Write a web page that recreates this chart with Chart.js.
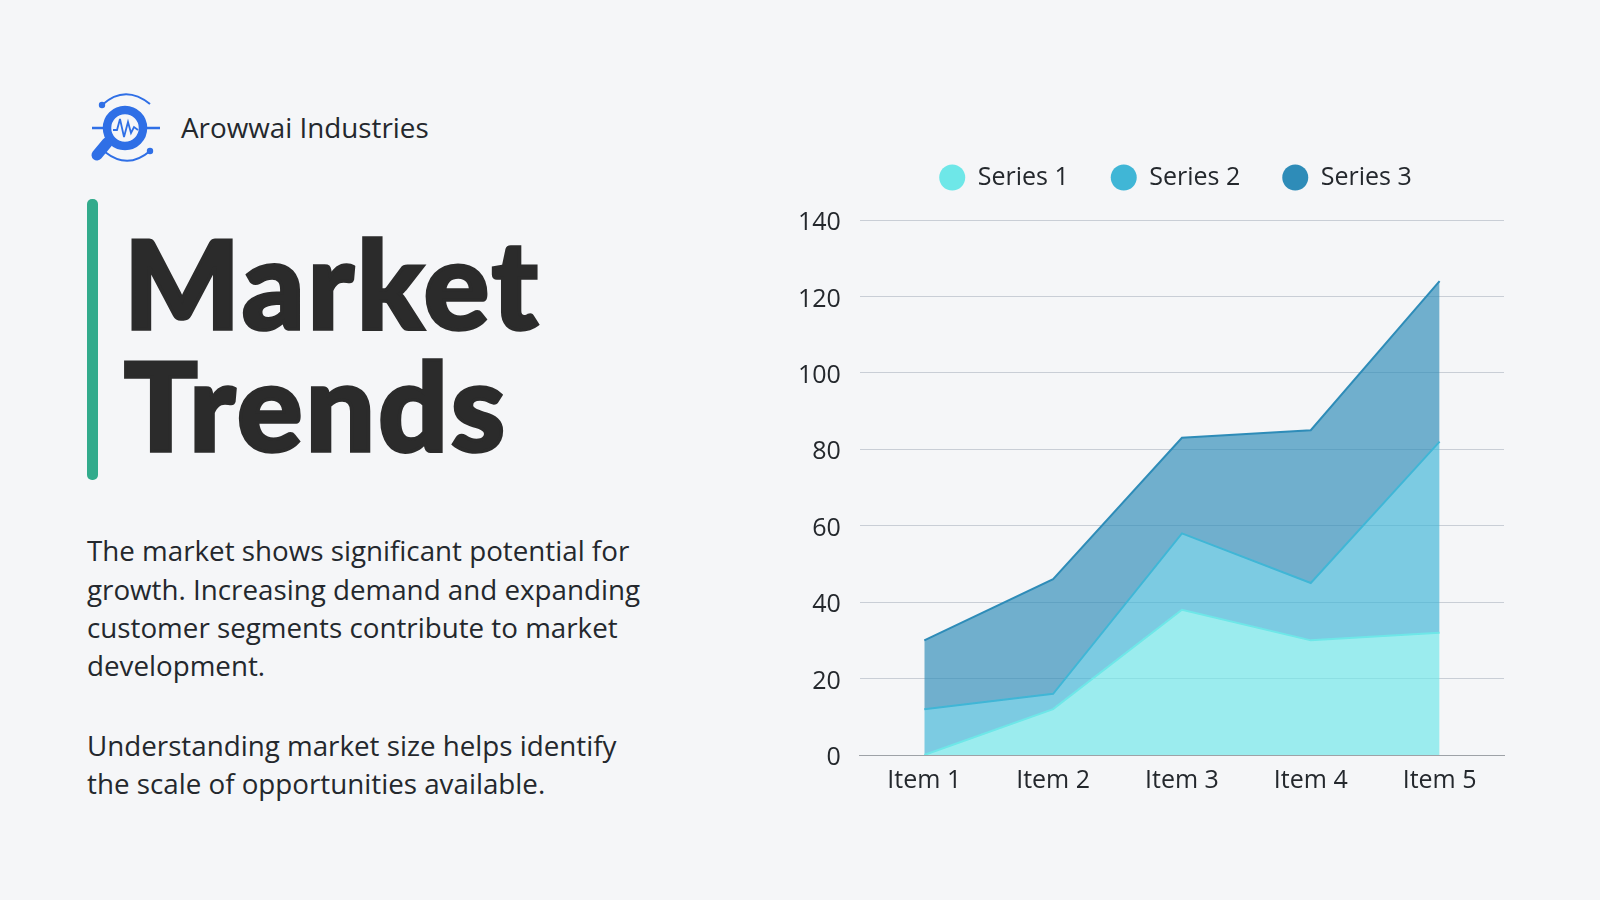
<!DOCTYPE html>
<html>
<head>
<meta charset="utf-8">
<title>Market Trends</title>
<script src="https://cdn.jsdelivr.net/npm/chart.js@4"></script>
<style>
  html, body { margin: 0; padding: 0; }
  body { width: 1600px; height: 900px; background: #f5f6f8; position: relative; overflow: hidden; font-family: "Open Sans", sans-serif; color: #24282d; }
  #logo { position: absolute; left: 70px; top: 80px; }
  #company { position: absolute; left: 181px; top: 107px; font-size: 27.8px; line-height: 40px; }
  #bar { position: absolute; left: 87px; top: 199px; width: 11px; height: 281px; border-radius: 5px; background: #32ab8c; }
  #title { position: absolute; left: 124px; top: 221px; font-family: Lato, sans-serif; font-weight: 900; font-size: 122px; line-height: 122px; letter-spacing: 3.3px; color: #2b2b2b; -webkit-text-stroke: 3.5px #2b2b2b; }
  .para { position: absolute; left: 87px; font-size: 27.75px; line-height: 38.2px; margin: 0; white-space: nowrap; }
  #chartBox { position: absolute; left: 779px; top: 0; width: 792px; height: 900px; }
</style>
</head>
<body>
<svg id="logo" width="120" height="90" viewBox="0 0 120 90" fill="none" stroke="#2f6fe6">
  <path d="M32 25 Q55 4 80 24" stroke-width="2"/>
  <circle cx="32" cy="25" r="3.2" fill="#2f6fe6" stroke="none"/>
  <path d="M35 72 Q58 90 80 71" stroke-width="2"/>
  <circle cx="80" cy="71" r="3.2" fill="#2f6fe6" stroke="none"/>
  <path d="M22 48 H36 M75 48 H90" stroke-width="2.5"/>
  <circle cx="55" cy="48" r="18" stroke-width="8.5"/>
  <path d="M37 63 L27 75" stroke-width="11" stroke-linecap="round"/>
  <path d="M43 50 L47 50 L50 39 L54 57 L58 42 L61 53 L64 47 L68 50" stroke-width="1.8"/>
</svg>
<div id="company">Arowwai Industries</div>
<div id="bar"></div>
<div id="title">Market<br>Trends</div>
<p class="para" style="top: 531.3px">The market shows significant potential for<br>growth. Increasing demand and expanding<br>customer segments contribute to market<br>development.</p>
<p class="para" style="top: 726px">Understanding market size helps identify<br>the scale of opportunities available.</p>
<div id="chartBox"><canvas id="chart"></canvas></div>

<script>
const categories = ['Item 1', 'Item 2', 'Item 3', 'Item 4', 'Item 5'];
const series1 = [0, 12, 38, 30, 32];
const series2 = [12, 4, 20, 15, 50];
const series3 = [18, 30, 25, 40, 42];
const yTicks = [0, 20, 40, 60, 80, 100, 120, 140];

const textColor = '#24282d';
const fontFamily = '"Open Sans", sans-serif';

// extra room under the legend (its box is clipped so it has to stay tall enough),
// and the legend sits right of the centre of the chart box
const legendPlacement = {
    id: 'legendPlacement',
    beforeInit(chart) {
        const fit = chart.legend.fit;
        chart.legend.fit = function() {
            fit.call(this);
            this.height += 20;
        };
    },
    afterLayout(chart) {
        chart.legend.left += 34;
        chart.legend.right += 34;
    }
};

new Chart(document.getElementById('chart'), {
    type: 'line',
    data: {
        labels: categories,
        datasets: [
            { label: 'Series 1', data: series1, borderColor: '#6ee7e8', backgroundColor: 'rgba(110,231,232,0.67)', fill: 'origin' },
            { label: 'Series 2', data: series2, borderColor: '#40b6d6', backgroundColor: 'rgba(64,182,214,0.67)', fill: '-1' },
            { label: 'Series 3', data: series3, borderColor: '#2e8cb8', backgroundColor: 'rgba(46,140,184,0.67)', fill: '-1' }
        ]
    },
    options: {
        responsive: true,
        maintainAspectRatio: false,
        animation: false,
        layout: { padding: { top: 123, right: 67, bottom: 101, left: 0 } },
        elements: {
            line: { tension: 0, borderWidth: 2 },
            point: { radius: 0 }
        },
        plugins: {
            tooltip: { enabled: false },
            legend: {
                position: 'top',
                align: 'center',
                labels: {
                    color: textColor,
                    font: { family: fontFamily, size: 25 },
                    usePointStyle: true,
                    pointStyle: 'circle',
                    boxHeight: 18.4,
                    pointStyleWidth: 26,
                    padding: 42,
                    generateLabels(chart) {
                        return chart.data.datasets.map((d, i) => ({
                            text: d.label,
                            fillStyle: d.borderColor,
                            strokeStyle: d.borderColor,
                            lineWidth: 0,
                            pointStyle: 'circle',
                            fontColor: textColor,
                            datasetIndex: i
                        }));
                    }
                }
            }
        },
        scales: {
            x: {
                offset: true,
                grid: { display: false },
                border: { display: true, color: '#9ea2a7', width: 1 },
                ticks: { color: textColor, font: { family: fontFamily, size: 25 }, padding: 3, maxRotation: 0 }
            },
            y: {
                stacked: true,
                min: yTicks[0],
                max: yTicks[yTicks.length - 1],
                grid: { color: ctx => ctx.tick.value === 0 ? 'rgba(0,0,0,0)' : '#c9ced6', lineWidth: 1, drawTicks: false },
                border: { display: false },
                ticks: { stepSize: 20, color: textColor, font: { family: fontFamily, size: 25 }, padding: 19, labelOffset: 3 }
            }
        }
    },
    plugins: [legendPlacement]
});
</script>
</body>
</html>
